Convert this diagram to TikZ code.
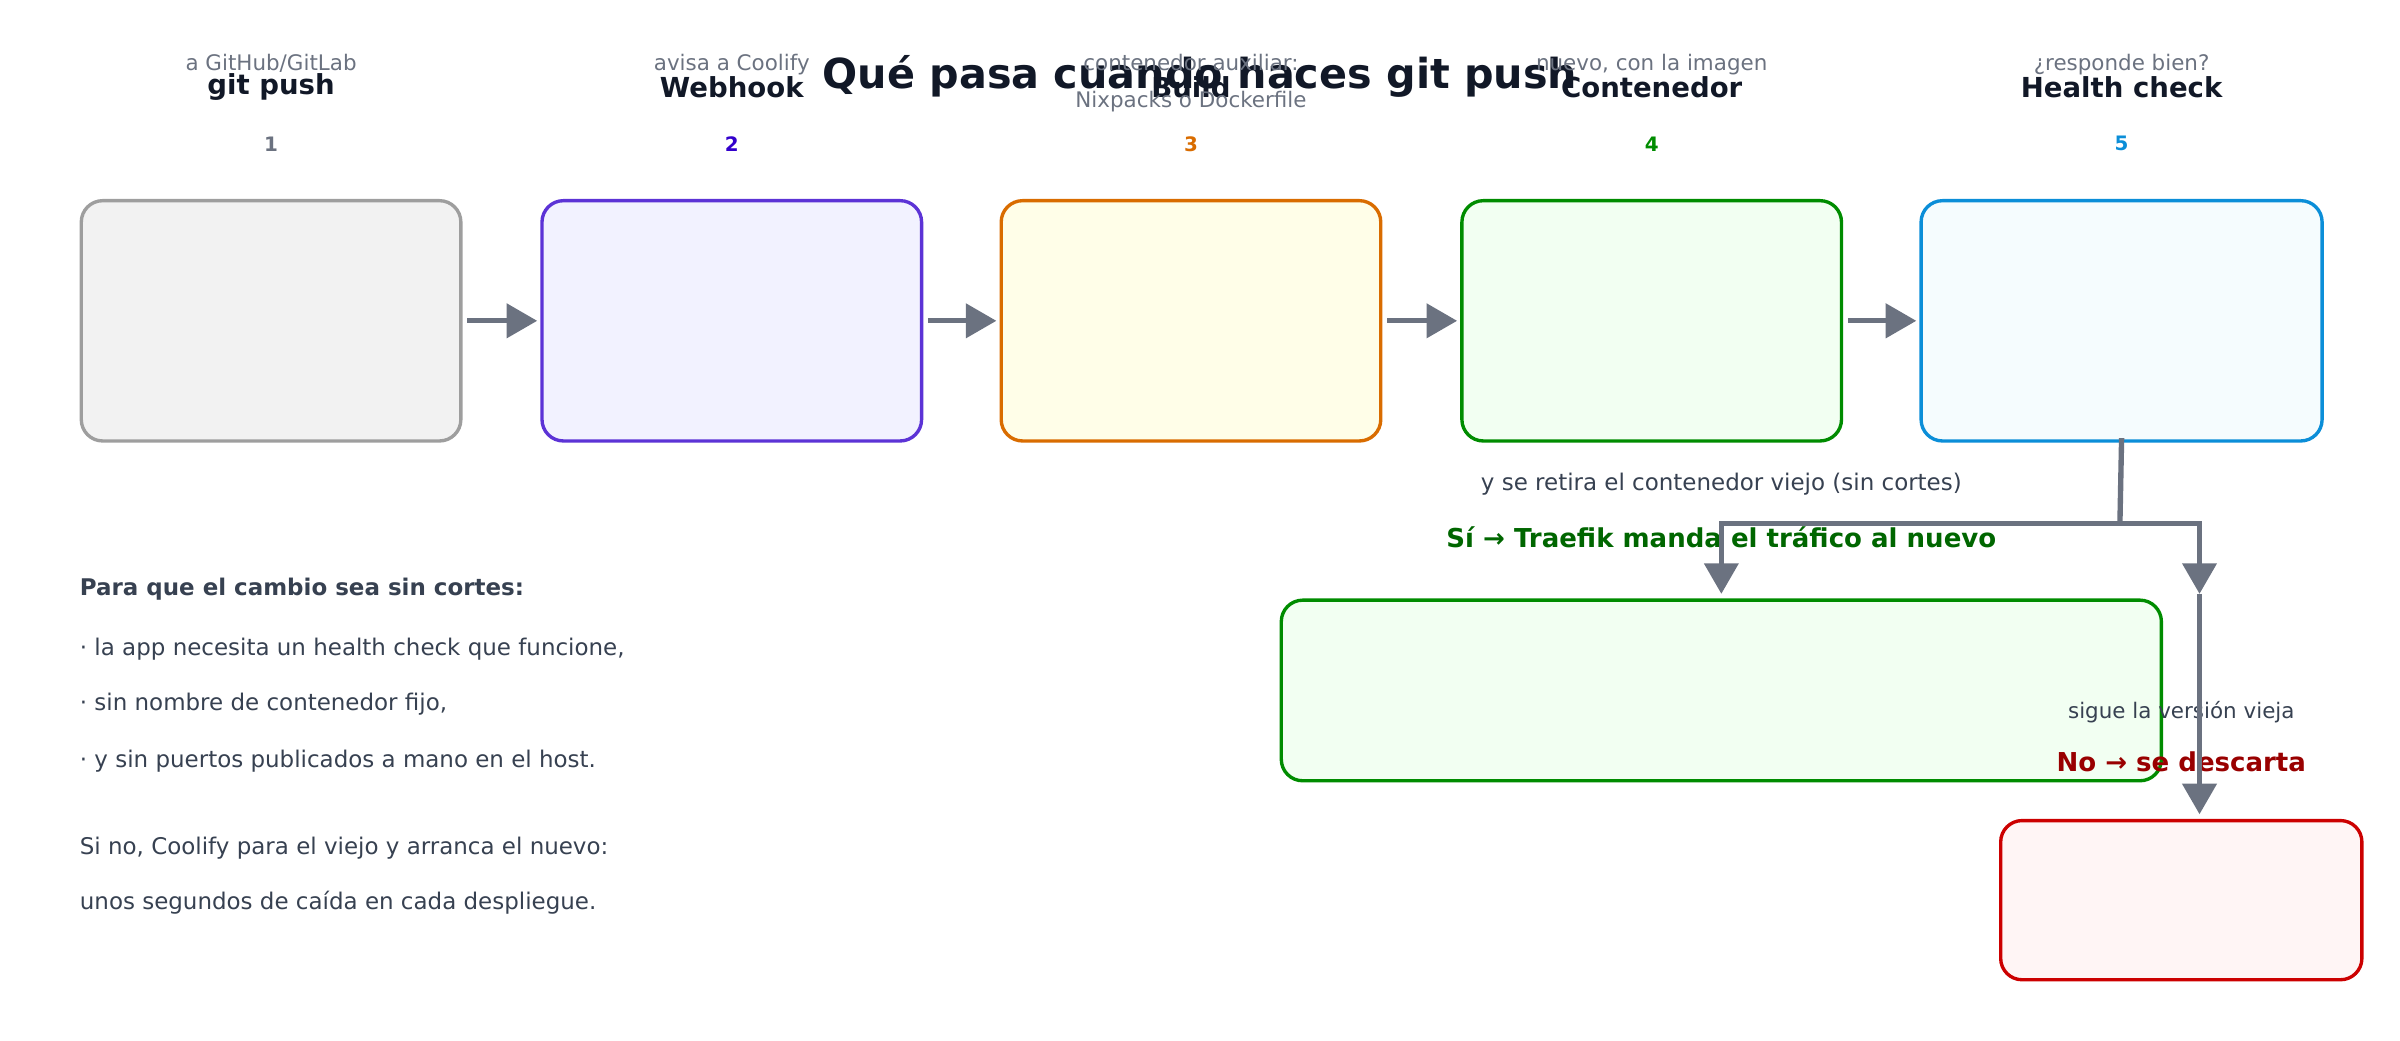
\documentclass[tikz,border=0pt]{standalone}
\usepackage{fontspec}
\setmainfont{DejaVu Sans}
\usetikzlibrary{arrows.meta}
\definecolor{arrowgray}{HTML}{6B7280}
\definecolor{txtdark}{HTML}{111827}
\definecolor{txtbody}{HTML}{374151}
\definecolor{txtsub}{HTML}{6B7280}
\tikzset{
  stagebox/.style={draw, line width=2.2pt, rounded corners=14pt, minimum height=157pt, anchor=north west, align=center},
  flow/.style={draw=arrowgray, line width=3.5pt, -{Triangle[length=20pt,width=22pt]}},
  body/.style={anchor=west, inner sep=0pt, font=\fontsize{15}{18}\selectfont, text=txtbody}
}
\newcommand{\stagenode}[5]{% name, x, width, colour, fill
  \node[stagebox, draw=#4, fill=#5, minimum width=#3pt] (#1) at (#2,130) {};}
\begin{document}
\begin{tikzpicture}[x=1pt,y=1pt,yscale=-1]
\useasboundingbox (0,0) rectangle (1568,679.5);
\node[font=\bfseries\fontsize{27}{30}\selectfont, text=txtdark] (title) at (784,50) {Qué pasa cuando haces git push};

\stagenode{s1}{52}{248}{black!38}{black!5}
\stagenode{s2}{353}{248}{blue!60!violet!80}{blue!5}
\stagenode{s3}{653}{248}{orange!85!black}{yellow!9}
\stagenode{s4}{954}{248}{green!55!black}{green!5}
\stagenode{s5}{1254}{262}{cyan!75!blue}{cyan!4}

\foreach \n/\k/\c/\t/\s in {s1/1/txtsub/git push/{a GitHub/GitLab}, s2/2/blue!60!violet/Webhook/avisa a Coolify, s3/3/orange!85!black/Build/{contenedor auxiliar:\\Nixpacks o Dockerfile}, s4/4/green!55!black/Contenedor/{nuevo, con la imagen}, s5/5/cyan!75!blue/Health check/¿responde bien?}{
  \node[font=\bfseries\fontsize{13}{15}\selectfont, text=\c] at ([yshift=-36pt]\n.north) {\k};
  \node[font=\bfseries\fontsize{18}{21}\selectfont, text=txtdark] at ([yshift=-73pt]\n.north) {\t};
  \node[font=\fontsize{14}{24}\selectfont, text=txtsub, align=center, anchor=north] at ([yshift=-98pt]\n.north) {\s};
}
\foreach \a/\b in {s1/s2, s2/s3, s3/s4, s4/s5}
  \draw[flow] ([xshift=3pt]\a.east) -- ([xshift=-2pt]\b.west);

% branches
\node[stagebox, draw=green!55!black, fill=green!5, minimum width=575pt, minimum height=118pt] (yes) at (836,391) {};
\node[font=\bfseries\fontsize{17}{20}\selectfont, text=green!40!black] at ([yshift=-40pt]yes.north) {Sí → Traefik manda el tráfico al nuevo};
\node[font=\fontsize{15}{18}\selectfont, text=txtbody] at ([yshift=-75pt]yes.north) {y se retira el contenedor viejo (sin cortes)};
\node[stagebox, draw=red!80!black, fill=red!4, minimum width=236pt, minimum height=104pt] (no) at (1306,535) {};
\node[font=\bfseries\fontsize{17}{20}\selectfont, text=red!60!black] at ([yshift=-37pt]no.north) {No → se descarta};
\node[font=\fontsize{14}{17}\selectfont, text=txtbody] at ([yshift=-70pt]no.north) {sigue la versión vieja};

\coordinate (split) at (1385,342);
\coordinate (mid) at (1437,388);
\draw[draw=arrowgray, line width=3.5pt] ([yshift=-3pt]s5.south) -- (split);
\draw[flow] (split) -| ([yshift=-3pt]yes.north);
\draw[flow] (split) -| (mid);
\draw[flow] (mid) -- ([yshift=-3pt]no.north -| mid);

% note
\node[body, font=\bfseries\fontsize{15}{18}\selectfont] (n0) at (52,385) {Para que el cambio sea sin cortes:};
\node[body] (n1) at (52,424) {· la app necesita un health check que funcione,};
\node[body] (n2) at (52,460) {· sin nombre de contenedor fijo,};
\node[body] (n3) at (52,497) {· y sin puertos publicados a mano en el host.};
\node[body] (n4) at (52,554) {Si no, Coolify para el viejo y arranca el nuevo:};
\node[body] (n5) at (52,590) {unos segundos de caída en cada despliegue.};
\end{tikzpicture}
\end{document}
